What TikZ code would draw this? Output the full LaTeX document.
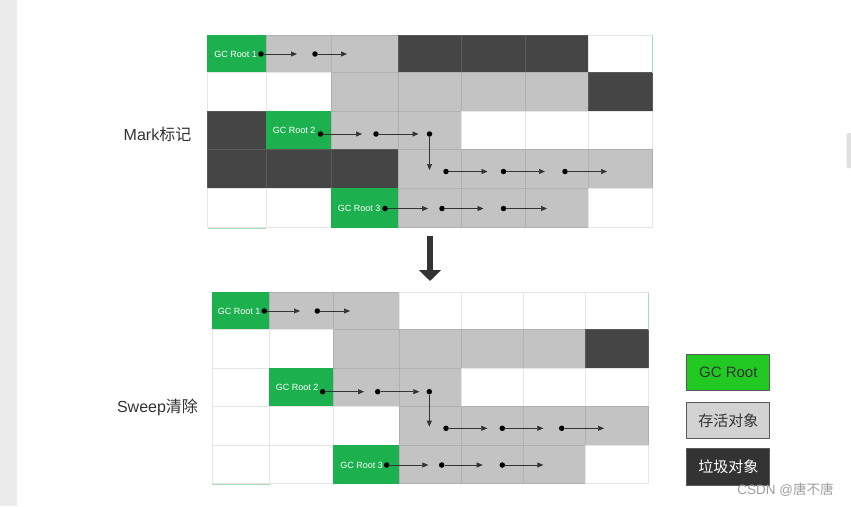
\documentclass[tikz,border=0pt]{standalone}
\usepackage{fontspec}
\setmainfont{Liberation Sans}
\newfontfamily\cjk{Noto Sans CJK SC}
\usetikzlibrary{arrows.meta}
\definecolor{cellG}{HTML}{1DB04E}
\definecolor{cellL}{HTML}{C3C3C3}
\definecolor{cellD}{HTML}{454545}
\definecolor{cellW}{HTML}{FFFFFF}
\definecolor{lineG}{HTML}{1DB04E}
\definecolor{lineL}{HTML}{B0B0B0}
\definecolor{lineD}{HTML}{595959}
\definecolor{lineW}{HTML}{E6E6E6}
\definecolor{txt}{HTML}{333333}
\definecolor{legG}{HTML}{22C922}
\definecolor{legL}{HTML}{D2D2D2}
\definecolor{legD}{HTML}{333333}
\definecolor{faintG}{HTML}{A6DDB8}
\newcommand\gridrow[4]{%
  \foreach \c [count=\i from 0] in {#4} {%
    \pgfmathsetmacro\xa{{#1}[\i]}%
    \pgfmathsetmacro\xb{{#1}[\i+1]}%
    \filldraw[fill=cell\c, draw=line\c, line width=0.8pt] (\xa,#2) rectangle (\xb,#3);
  }}
\begin{document}
\begin{tikzpicture}[x=1pt,y=-1pt,
  dot/.style={circle, fill=black, inner sep=0pt, minimum size=5.5pt},
  ptr/.style={draw=txt, line width=0.6pt, -{Triangle[length=6pt,width=5pt]}},
  rootlbl/.style={anchor=east, inner sep=0pt, text=white, font=\fontsize{9}{10}\selectfont},
  sidelbl/.style={inner sep=0pt, text=txt, font=\fontsize{16}{18}\selectfont},
  legbox/.style={draw=lineD, line width=1pt, minimum width=83pt, minimum height=36.5pt, inner sep=0pt, font=\fontsize{15}{17}\selectfont},
  bigarrow/.style={draw=legD, line width=6.6pt, -{Triangle[length=11pt,width=21.7pt]}}
]
\useasboundingbox (0,0) rectangle (851,506);
\fill[white] (0,0) rectangle (851,506);
\fill[black!7.5] (0,0) rectangle (17,506);
\fill[black!12, rounded corners=2pt] (846.5,133) rectangle (856,168);

% ---------- top grid (Mark) ----------
\def\tcols{207.5,266,331.5,398,461.5,525,588.5,652.5}
\gridrow{\tcols}{35}{72.5}{G,L,L,D,D,D,W}
\gridrow{\tcols}{72.5}{111}{W,W,L,L,L,L,D}
\gridrow{\tcols}{111}{149.5}{D,G,L,L,W,W,W}
\gridrow{\tcols}{149.5}{188.5}{D,D,D,L,L,L,L}
\gridrow{\tcols}{188.5}{227}{W,W,G,L,L,L,W}
\draw[faintG, line width=0.8pt] (652.5,35) -- (652.5,72.5);
\draw[faintG, line width=1pt] (207.5,228) -- (266,228);

% ---------- bottom grid (Sweep) ----------
\def\bcols{212,269.5,333.5,399,461,523.5,585.5,648}
\gridrow{\bcols}{292.5}{329.5}{G,L,L,W,W,W,W}
\gridrow{\bcols}{329.5}{368.5}{W,W,L,L,L,L,D}
\gridrow{\bcols}{368.5}{406.5}{W,G,L,L,W,W,W}
\gridrow{\bcols}{406.5}{445}{W,W,W,L,L,L,L}
\gridrow{\bcols}{445}{483.5}{W,W,G,L,L,L,W}
\draw[faintG, line width=0.8pt] (648,292.5) -- (648,329.5);
\draw[faintG, line width=1pt] (212,484.5) -- (269.5,484.5);

% ---------- top labels, dots, arrows ----------
\node[rootlbl] (tr1) at (257,54) {GC Root 1};
\node[rootlbl] (tr2) at (315.5,130.5) {GC Root 2};
\node[rootlbl] (tr3) at (380.5,208.5) {GC Root 3};

\node[dot] (ta1) at (261,54) {};   \coordinate (ta1e) at (297,54);
\node[dot] (ta2) at (315,54) {};   \coordinate (ta2e) at (347,54);
\draw[ptr] (ta1) -- (ta1e);
\draw[ptr] (ta2) -- (ta2e);

\node[dot] (tb1) at (320.5,134) {}; \coordinate (tb1e) at (362,134);
\node[dot] (tb2) at (376,134) {};   \coordinate (tb2e) at (418.5,134);
\node[dot] (tb3) at (429.5,134) {}; \coordinate (tb3e) at (429.5,170);
\draw[ptr] (tb1) -- (tb1e);
\draw[ptr] (tb2) -- (tb2e);
\draw[ptr] (tb3) -- (tb3e);

\node[dot] (tc1) at (446,171.5) {};   \coordinate (tc1e) at (487.5,171.5);
\node[dot] (tc2) at (503.5,171.5) {}; \coordinate (tc2e) at (545,171.5);
\node[dot] (tc3) at (565,171.5) {};   \coordinate (tc3e) at (607,171.5);
\draw[ptr] (tc1) -- (tc1e);
\draw[ptr] (tc2) -- (tc2e);
\draw[ptr] (tc3) -- (tc3e);

\node[dot] (td1) at (385,208.5) {};   \coordinate (td1e) at (428,208.5);
\node[dot] (td2) at (442,208.5) {};   \coordinate (td2e) at (483.5,208.5);
\node[dot] (td3) at (503.5,208.5) {}; \coordinate (td3e) at (547,208.5);
\draw[ptr] (td1) -- (td1e);
\draw[ptr] (td2) -- (td2e);
\draw[ptr] (td3) -- (td3e);

% ---------- bottom labels, dots, arrows ----------
\node[rootlbl] (br1) at (260.5,311) {GC Root 1};
\node[rootlbl] (br2) at (318.5,387.7) {GC Root 2};
\node[rootlbl] (br3) at (383,465) {GC Root 3};

\node[dot] (ba1) at (264.3,311) {}; \coordinate (ba1e) at (300,311);
\node[dot] (ba2) at (317.3,311) {}; \coordinate (ba2e) at (350,311);
\draw[ptr] (ba1) -- (ba1e);
\draw[ptr] (ba2) -- (ba2e);

\node[dot] (bb1) at (322.7,391.7) {}; \coordinate (bb1e) at (364,391.7);
\node[dot] (bb2) at (377.7,391.7) {}; \coordinate (bb2e) at (419.3,391.7);
\node[dot] (bb3) at (429.3,391.7) {}; \coordinate (bb3e) at (429.3,426.7);
\draw[ptr] (bb1) -- (bb1e);
\draw[ptr] (bb2) -- (bb2e);
\draw[ptr] (bb3) -- (bb3e);

\node[dot] (bc1) at (446,428.3) {};   \coordinate (bc1e) at (487.3,428.3);
\node[dot] (bc2) at (502.3,428.3) {}; \coordinate (bc2e) at (543.3,428.3);
\node[dot] (bc3) at (561.7,428.3) {}; \coordinate (bc3e) at (604,428.3);
\draw[ptr] (bc1) -- (bc1e);
\draw[ptr] (bc2) -- (bc2e);
\draw[ptr] (bc3) -- (bc3e);

\node[dot] (bd1) at (386.7,465) {}; \coordinate (bd1e) at (428.3,465);
\node[dot] (bd2) at (441.7,465) {}; \coordinate (bd2e) at (482.7,465);
\node[dot] (bd3) at (502.3,465) {}; \coordinate (bd3e) at (543.3,465);
\draw[ptr] (bd1) -- (bd1e);
\draw[ptr] (bd2) -- (bd2e);
\draw[ptr] (bd3) -- (bd3e);

% ---------- side labels ----------
\node[sidelbl] (mark) at (157.5,134.5) {Mark{\cjk 标记}};
\node[sidelbl] (sweep) at (157.5,407) {Sweep{\cjk 清除}};

% ---------- big arrow ----------
\coordinate (bigA) at (430,236);
\coordinate (bigB) at (430,281);
\draw[bigarrow] (bigA) -- (bigB);

% ---------- legend ----------
\node[legbox, fill=legG, text=txt] (legRoot) at (728.3,372.3) {GC Root};
\node[legbox, fill=legL, text=txt] (legLive) at (728.3,420.3) {\cjk 存活对象};
\node[legbox, fill=legD, text=white] (legDead) at (728.3,467) {\cjk 垃圾对象};

% ---------- watermark ----------
\node[inner sep=0pt, text=black!38, font=\fontsize{13.5}{15}\selectfont] (wm) at (785.5,490) {CSDN @{\cjk 唐不唐}};
\end{tikzpicture}
\end{document}
